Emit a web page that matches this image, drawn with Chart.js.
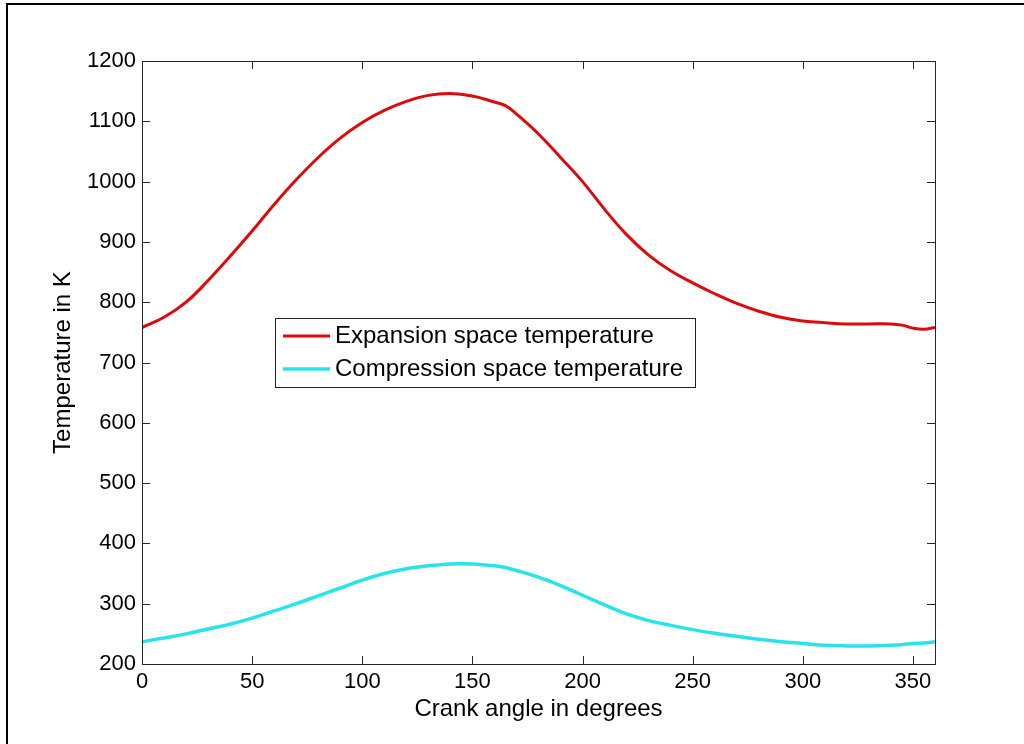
<!DOCTYPE html>
<html>
<head>
<meta charset="utf-8">
<script src="https://cdn.jsdelivr.net/npm/chart.js@4/dist/chart.umd.min.js"></script>
<style>
  body { margin: 0; background: #fff; }
  #wrap { width: 1024px; height: 744px; }
</style>
</head>
<body>
<div id="wrap"><canvas id="tempChart" width="1024" height="744"></canvas></div>
<script>
// crank angle (deg)
const angles = [0, 10, 20, 30, 40, 50, 60, 70, 80, 90, 100, 110, 120, 130, 140, 150, 160, 165, 170, 180,
  190, 200, 210, 220, 230, 240, 250, 260, 270, 280, 290, 300, 310, 320, 330, 340, 345, 350, 355, 360];

// expansion space temperature (K)
const expansionTemp = [758, 775, 800, 836, 876, 918, 962, 1003, 1040, 1072, 1098, 1118, 1133, 1143, 1146, 1142, 1132, 1126, 1112, 1079,
  1040, 1000, 954, 912, 878, 852, 832, 814, 798, 785, 775, 769, 766, 764, 764, 764, 762, 757, 755, 758];

// compression space temperature (K)
const compressionTemp = [237, 243, 250, 258, 266, 276, 288, 300, 313, 326, 339, 350, 358, 363, 366, 366, 363, 360, 355, 344,
  330, 314, 298, 283, 272, 264, 257, 251, 246, 241, 237, 234, 231, 230, 230, 231, 232, 234, 235, 237];

const seriesLabels = ["Expansion space temperature", "Compression space temperature"];
const xTicks = [0, 50, 100, 150, 200, 250, 300, 350];
const yTicks = [200, 300, 400, 500, 600, 700, 800, 900, 1000, 1100, 1200];

const FONT = "'Liberation Sans', Arial, sans-serif";

function toPoints(ys) {
  return angles.map((a, i) => ({ x: a, y: ys[i] }));
}

// white page with the figure frame (left and top edges visible)
const framePlugin = {
  id: "frame",
  beforeDraw(chart) {
    const ctx = chart.ctx;
    ctx.save();
    ctx.fillStyle = "#fff";
    ctx.fillRect(0, 0, chart.width, chart.height);
    ctx.strokeStyle = "#000";
    ctx.lineWidth = 2;
    ctx.beginPath();
    ctx.moveTo(7, chart.height);
    ctx.lineTo(7, 4);
    ctx.lineTo(chart.width, 4);
    ctx.stroke();
    ctx.restore();
  },
};

// MATLAB-like box with inward ticks on all sides
const boxPlugin = {
  id: "box",
  afterDatasetsDraw(chart) {
    const { ctx, chartArea: a, scales } = chart;
    const len = 8;
    ctx.save();
    ctx.strokeStyle = "#262626";
    ctx.lineWidth = 1;
    ctx.beginPath();
    xTicks.forEach((v) => {
      const px = Math.round(scales.x.getPixelForValue(v)) + 0.5;
      ctx.moveTo(px, a.bottom);
      ctx.lineTo(px, a.bottom - len);
      ctx.moveTo(px, a.top);
      ctx.lineTo(px, a.top + len);
    });
    yTicks.forEach((v) => {
      const py = Math.round(scales.y.getPixelForValue(v)) + 0.5;
      ctx.moveTo(a.left, py);
      ctx.lineTo(a.left + len, py);
      ctx.moveTo(a.right, py);
      ctx.lineTo(a.right - len, py);
    });
    ctx.stroke();
    ctx.strokeRect(Math.round(a.left) + 0.5, Math.round(a.top) + 0.5,
      Math.round(a.right - a.left), Math.round(a.bottom - a.top));
    ctx.restore();
  },
};

// legend box inside the axes
const legendBoxPlugin = {
  id: "legendBox",
  afterDraw(chart) {
    const ctx = chart.ctx;
    const bx = 275, by = 318, bw = 420, bh = 69;
    ctx.save();
    ctx.fillStyle = "#fff";
    ctx.fillRect(bx, by, bw, bh);
    ctx.strokeStyle = "#222";
    ctx.lineWidth = 1;
    ctx.strokeRect(bx + 0.5, by + 0.5, bw, bh);
    ctx.font = "24px " + FONT;
    ctx.textBaseline = "middle";
    ctx.fillStyle = "#000";
    chart.data.datasets.forEach((ds, i) => {
      const y = by + 18 + i * 33;
      ctx.strokeStyle = ds.borderColor;
      ctx.lineWidth = ds.borderWidth;
      ctx.beginPath();
      ctx.moveTo(283, y);
      ctx.lineTo(330, y);
      ctx.stroke();
      ctx.fillText(ds.label, 335, y);
    });
    ctx.restore();
  },
};

new Chart(document.getElementById("tempChart"), {
  type: "line",
  data: {
    datasets: [
      {
        label: seriesLabels[0],
        data: toPoints(expansionTemp),
        borderColor: "#dc0a0a",
        borderWidth: 3,
        pointRadius: 0,
        tension: 0.4,
      },
      {
        label: seriesLabels[1],
        data: toPoints(compressionTemp),
        borderColor: "#28e4ea",
        borderWidth: 3.5,
        pointRadius: 0,
        tension: 0.4,
      },
    ],
  },
  options: {
    responsive: false,
    animation: false,
    layout: { padding: { left: 0, top: 61, right: 89, bottom: 0 } },
    plugins: {
      legend: { display: false },
      tooltip: { enabled: false },
    },
    scales: {
      x: {
        type: "linear",
        min: 0,
        max: 360,
        afterBuildTicks: (s) => { s.ticks = xTicks.map((v) => ({ value: v })); },
        afterFit: (s) => { s.height = 80; },
        grid: { display: false, drawTicks: false },
        border: { display: false },
        ticks: {
          color: "#000",
          padding: 5,
          font: { family: FONT, size: 22 },
          maxRotation: 0,
          callback: (v) => String(v),
        },
        title: {
          display: true,
          text: "Crank angle in degrees",
          color: "#000",
          font: { family: FONT, size: 24 },
          padding: { top: 0, bottom: 20 },
        },
      },
      y: {
        min: 200,
        max: 1200,
        afterBuildTicks: (s) => { s.ticks = yTicks.map((v) => ({ value: v })); },
        afterFit: (s) => { s.width = 142; },
        grid: { display: false, drawTicks: false },
        border: { display: false },
        ticks: {
          color: "#000",
          padding: 6,
          font: { family: FONT, size: 22 },
          callback: (v) => String(v),
        },
        title: {
          display: true,
          text: "Temperature in K",
          color: "#000",
          font: { family: FONT, size: 24 },
          padding: { top: 49, bottom: 0 },
        },
      },
    },
  },
  plugins: [framePlugin, boxPlugin, legendBoxPlugin],
});
</script>
</body>
</html>
